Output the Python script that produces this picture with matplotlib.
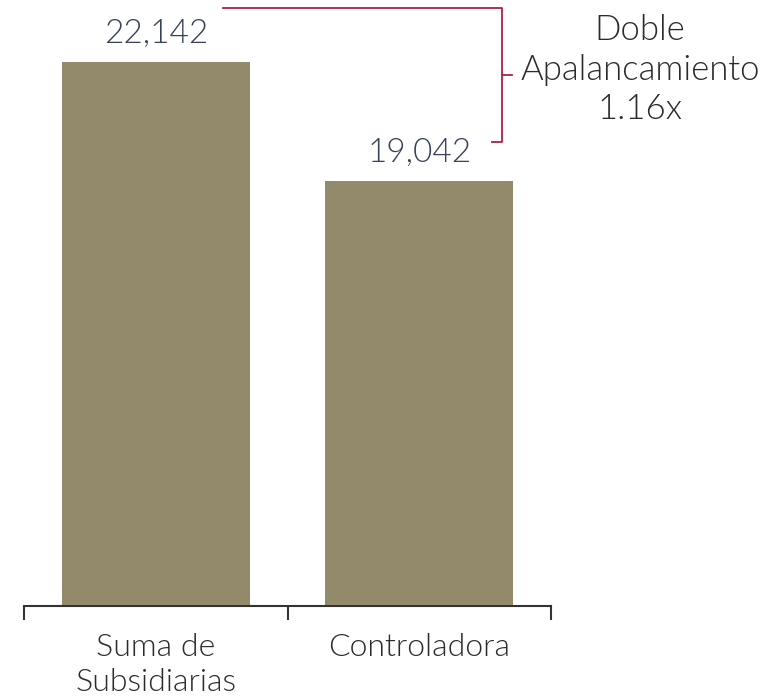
import matplotlib
matplotlib.use("Agg")
import matplotlib.pyplot as plt
import matplotlib.transforms as mtransforms
from matplotlib.lines import Line2D

categories = ["Suma de\nSubsidiarias", "Controladora"]
values = [22142, 19042]
value_labels = ["22,142", "19,042"]
annotation = "Doble\nApalancamiento\n1.16x"

W, H = 763, 699
fig = plt.figure(figsize=(W / 100, H / 100), dpi=100)
plt.rcParams['font.family'] = ['Lato', 'DejaVu Sans']

FW = 300

ax = fig.add_axes([24 / W, 1 - 606 / H, (551 - 24) / W, 606 / H])
bar_color = "#938a6c"
x = list(range(len(categories)))
ax.bar(x, values, width=0.713, color=bar_color)
ax.set_xlim(-0.5, len(categories) - 0.5)
ax.set_ylim(7971, 23756)

for s in ["top", "right", "left"]:
    ax.spines[s].set_visible(False)
ax.spines["bottom"].set_color("#333333")
ax.spines["bottom"].set_linewidth(1.5)
ax.set_yticks([])
ax.set_xticks([i + 0.5 for i in range(-1, len(categories))])
ax.set_xticklabels([])
ax.tick_params(axis="x", length=10, width=1.5, color="#333333", direction="out")

def fx(px):
    return px / W

def fy(py):
    return 1 - py / H

blend = mtransforms.blended_transform_factory(ax.transData, fig.transFigure)
for i, c in enumerate(categories):
    for j, line in enumerate(c.split("\n")):
        ax.text(i, fy(656 + 35 * j), line, transform=blend,
                ha="center", va="baseline", fontsize=23, color="#2b2b2b", fontweight=FW)

for i, (v, lab) in enumerate(zip(values, value_labels)):
    ax.annotate(lab, (i, v), xytext=(0, 14), textcoords="offset points",
                ha="center", va="baseline", fontsize=24, color="#36425a", fontweight=FW)

bc = "#b01e4c"
pts_x = [223, 502, 502, 492]
pts_y = [8, 8, 142, 142]
fig.add_artist(Line2D([fx(p) for p in pts_x], [fy(p) for p in pts_y],
                      transform=fig.transFigure, color=bc, lw=1.3))
fig.add_artist(Line2D([fx(502), fx(512)], [fy(75), fy(75)],
                      transform=fig.transFigure, color=bc, lw=1.3))

for j, line in enumerate(annotation.split("\n")):
    fig.text(fx(640), fy(40 + 39.5 * j), line, ha="center", va="baseline", fontsize=25,
             color="#2b2b2b", fontweight=FW)

fig.savefig("out.png", dpi=100)
